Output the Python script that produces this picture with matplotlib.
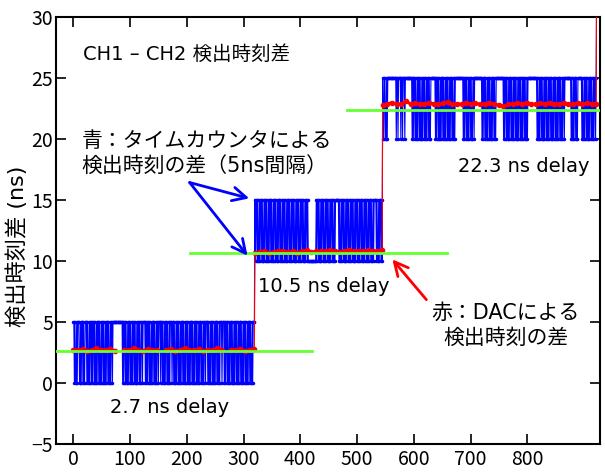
import numpy as np
import matplotlib
matplotlib.use('Agg')
import matplotlib.pyplot as plt

### Latin text in DejaVu, Japanese falls through to Noto CJK
plt.rcParams['font.family'] = ['DejaVu Sans', 'Noto Sans CJK JP']
plt.rcParams['font.size'] = 14
tick_font = 'Noto Sans CJK JP'

### Time interval counter readings, 1 = upper 5 ns bin, 0 = lower bin
### (one character per event)
blue_seg1 = ("1101001011100101101001110100101101011010"
             "0101101001011010010110100101101111111111"
             "1111111010110100101101001011010010110100"
             "1101111010101101001011010010110111011010"
             "0101101001011101101001011010010110100101"
             "1010010110100101101001011010010110111010"
             "0101101001011010010111011101011010010110"
             "1001011010010110100101101001011010010111")
blue_seg2 = ("101101001011010010110100101101001011010010110"
             "100101101001011010010110100101101001011010010"
             "110100000000000000101101001011010010110100101"
             "101001011111101001011010010110100101101001011"
             "010010110100101101001011010010111101001011010")
blue_seg3 = ("1001100101111111111111110110111101101110"
             "1111111111110101101001011010010110100101"
             "1010011111111010110100101101001011010010"
             "1101001011111111111111010110100101101001"
             "1011111111111110101101001011010010110100"
             "1111111111111010110100101101001011010010"
             "1101001011010010111111111111111101001011"
             "0100101101001011010010110100101101001011"
             "0111111111110100101101001111111010010110"
             "10010110100101101")
blue_base = [0, 10, 20]   # ns, lower bin of each delay setting
bin_width = 5             # ns

### DAC readings (about every 8th event), nan = no reading
red_seg1 = [2.7, 2.65, 2.75, 2.6, 2.7, 2.8, 2.65, 2.7, 2.75, 2.6, np.nan,
            2.7, 2.65, 2.8, 2.7, 2.6, 2.75, 2.7, 2.65, np.nan,
            2.7, 2.75, 2.6, 2.7, 2.8, 2.65, 2.7, 2.75, 2.6, 2.7, 2.65, 2.8, 2.7, np.nan,
            2.65, 2.7, 2.75, 2.6, 2.7, 2.75]
red_seg2 = [10.65, 10.7, 10.75, 10.65, 10.7, 10.75, 10.8, 10.7, 10.75, 10.65,
            10.75, 10.85, 10.7, 10.75, 10.8, 10.75, 10.85, 10.75, 10.7, 10.8,
            10.85, 10.75, 10.8, 10.75, 10.85, 10.8, 10.75, 10.85]
red_seg3 = [22.75, 22.85, 22.95, 22.8, 22.85, 23.05, 22.85, 22.9, 22.8, 22.85,
            22.95, 22.85, 22.8, 22.9, 23.0, 22.85, 22.8, 22.85, 22.95, 22.85,
            22.9, 22.8, 22.85, 22.95, 22.85, 22.75, 22.65, 22.8, 22.85, 22.9,
            22.85, 22.95, 22.8, 22.85, 22.9, 22.85, 22.95, 22.8, 22.85, 22.9,
            22.85, 22.8, 22.95, 22.85, 22.9, 22.85, 22.8]
end_value = 35   # last event goes off scale

### Set delays (green reference lines)
green_level = [2.6, 10.65, 22.35]
green_start = [-31, 205, 482]
green_end = [420, 658, 930]
delay_labels = ['2.7 ns delay', '10.5 ns delay', '22.3 ns delay']

xticks = np.arange(0, 801, 100)
yticks = np.arange(-5, 31, 5)

### Build the series
segs = [blue_seg1, blue_seg2, blue_seg3]
blue_vals = []
seg_start = []
for base, s in zip(blue_base, segs):
    seg_start.append(len(blue_vals))
    blue_vals += [base + bin_width*int(c) for c in s]
n_events = len(blue_vals)
seg_end = seg_start[1:] + [n_events]
blue_x = np.append(np.arange(n_events), n_events)
blue_y = np.append(blue_vals, end_value)

red_parts = []
red_x, red_y = [], []
for st, en, seg in zip(seg_start, seg_end, [red_seg1, red_seg2, red_seg3]):
    xs = np.linspace(st, en - 1, len(seg))
    red_parts.append((xs, seg))
    red_x += list(xs)
    red_y += seg
red_x.append(n_events)
red_y.append(end_value)

fig = plt.figure(figsize=(6.05, 4.73), dpi=100)
ax = fig.add_axes([0.092, 0.062, 0.899, 0.903])

ax.plot(blue_x, blue_y, color='#0000ff', lw=0.8, marker='.', ms=3, zorder=2)
# thin line joins the steps, thick band for each delay setting
ax.plot(red_x, red_y, color='#ff0000', lw=0.8, zorder=3)
for xs, seg in red_parts:
    ax.plot(xs, seg, color='#ff0000', lw=2.2, marker='o', ms=3, zorder=3)
for lev, x0, x1 in zip(green_level, green_start, green_end):
    ax.plot([x0, x1], [lev, lev], color='#66ff33', lw=2, zorder=4)

ax.set_xlim(-31, 927)
ax.set_ylim(-5, 30)
ax.set_xticks(xticks)
ax.set_yticks(yticks)
ax.tick_params(direction='in', length=7, width=1.2, top=True, right=True,
               labelsize=14)
ax.tick_params(axis='x', pad=4)
ax.tick_params(axis='y', pad=2)
for lab in ax.get_xticklabels() + ax.get_yticklabels():
    lab.set_family(tick_font)
for sp in ax.spines.values():
    sp.set_linewidth(1.5)
ax.set_ylabel('検出時刻差 (ns)', fontsize=16)
ax.yaxis.set_label_coords(-0.051, 0.463)

### Annotations
ax.text(17, 26.9, 'CH1 – CH2 検出時刻差', ha='left', va='center')
ax.text(15, 18.8, '青：タイムカウンタによる\n検出時刻の差（5ns間隔）',
        ha='left', va='center', linespacing=1.3, fontsize=15)
ax.text(762, 4.7, '赤：DACによる\n検出時刻の差', ha='center', va='center',
        linespacing=1.3, fontsize=15)
ax.text(170, -2.0, delay_labels[0], ha='center', va='center')
ax.text(442, 7.85, delay_labels[1], ha='center', va='center')
ax.text(794, 17.7, delay_labels[2], ha='center', va='center')

arr = dict(arrowstyle='->,head_length=0.7,head_width=0.35', lw=2,
           shrinkA=0, shrinkB=0)
ax.annotate('', xy=(310, 15.1), xytext=(205, 16.4),
            arrowprops=dict(arr, color='#0000ff'), zorder=5)
ax.annotate('', xy=(307, 10.4), xytext=(205, 16.4),
            arrowprops=dict(arr, color='#0000ff'), zorder=5)
ax.annotate('', xy=(562, 10.1), xytext=(622, 6.8),
            arrowprops=dict(arr, color='#ff0000'), zorder=5)

fig.savefig('out.png', dpi=100)
